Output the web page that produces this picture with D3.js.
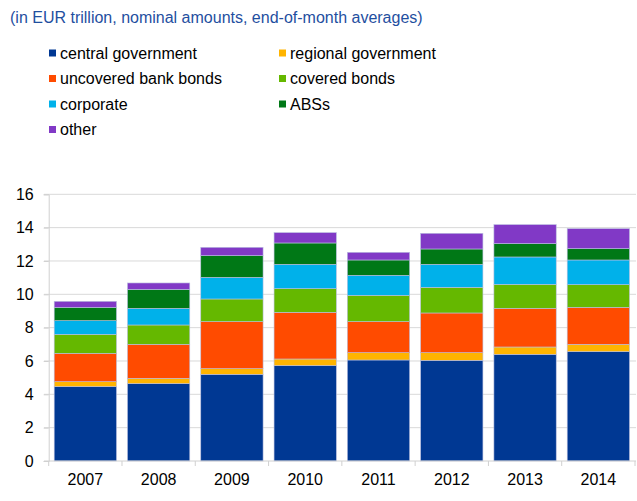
<!DOCTYPE html>
<html>
<head>
<meta charset="utf-8">
<script src="https://cdnjs.cloudflare.com/ajax/libs/d3/7.8.5/d3.min.js"></script>
<style>
  body { margin: 0; background: white; }
  text { font-family: "Liberation Sans", Arial, sans-serif; }
</style>
</head>
<body>
<div id="main"></div>
<script>
var width = 637,
    height = 501;

var years = ["2007", "2008", "2009", "2010", "2011", "2012", "2013", "2014"];
var seriesNames = ["central government", "regional government", "uncovered bank bonds",
                   "covered bonds", "corporate", "ABSs", "other"];
var colors = ["#003893", "#ffb400", "#ff4b00", "#65b800", "#00b1ea", "#007816", "#8139c6"];

// values, one array per series (EUR trillion)
var centralGov   = [4.46, 4.64, 5.20, 5.72, 6.06, 6.04, 6.40, 6.56];
var regionalGov  = [0.30, 0.32, 0.34, 0.40, 0.44, 0.46, 0.44, 0.44];
var uncovered    = [1.70, 2.04, 2.82, 2.80, 1.86, 2.38, 2.32, 2.22];
var covered      = [1.14, 1.16, 1.36, 1.42, 1.58, 1.54, 1.44, 1.36];
var corporate    = [0.82, 1.00, 1.30, 1.46, 1.20, 1.38, 1.64, 1.48];
var abss         = [0.80, 1.14, 1.30, 1.28, 0.92, 0.92, 0.80, 0.68];
var other        = [0.36, 0.38, 0.50, 0.62, 0.46, 0.94, 1.14, 1.20];
var yTicks = [0, 2, 4, 6, 8, 10, 12, 14, 16];

var allSeries = [centralGov, regionalGov, uncovered, covered, corporate, abss, other];

var table = years.map(function(y, i) {
  var row = {year: y};
  seriesNames.forEach(function(n, k) { row[n] = allSeries[k][i]; });
  return row;
});

var svg = d3.select("#main")
  .append("svg")
  .attr("width", width)
  .attr("height", height)
  .style("background-color", "white");

// title
svg.append("text")
  .attr("x", 10)
  .attr("y", 23)
  .style("font-size", "16px")
  .style("fill", "#1f4f9f")
  .text("(in EUR trillion, nominal amounts, end-of-month averages)");

/* legend, two columns */
var legend = svg.selectAll(".legend")
  .data(seriesNames)
.enter().append("g")
  .attr("class", "legend")
  .attr("transform", function(d, i) {
    var col = i % 2, row = Math.floor(i / 2);
    return "translate(" + (col === 0 ? 49 : 279) + "," + (53 + row * 25.5) + ")";
  });

legend.append("rect")
  .attr("x", 0)
  .attr("y", -3.5)
  .attr("width", 7)
  .attr("height", 7)
  .style("fill", function(d, i) { return colors[i]; });

legend.append("text")
  .attr("x", 11)
  .attr("y", 5.5)
  .style("font-size", "16px")
  .style("fill", "#000")
  .text(function(d) { return d; });

// scales
var x = d3.scaleBand()
  .domain(years)
  .range([48.7, 635])
  .paddingInner(0.15)
  .paddingOuter(0.075);

var y = d3.scaleLinear()
  .domain([0, 16])
  .range([461, 194.3]);

// gridlines
svg.selectAll(".grid")
  .data(yTicks.slice(1))
.enter().append("line")
  .attr("class", "grid")
  .attr("x1", 44)
  .attr("x2", 636)
  .attr("y1", function(d) { return y(d); })
  .attr("y2", function(d) { return y(d); })
  .style("stroke", "#d9d9d9")
  .style("stroke-width", 1);

// y axis
var yAxis = svg.append("g")
  .attr("transform", "translate(48.7,0)")
  .call(d3.axisLeft(y).tickValues(yTicks).tickSize(5).tickPadding(10));
yAxis.select(".domain").style("stroke", "#d0d0d0");
yAxis.selectAll(".tick line").style("stroke", "#d0d0d0");
yAxis.selectAll("text")
  .style("font-size", "16px")
  .style("font-family", "Liberation Sans, Arial, sans-serif")
  .style("fill", "#000");

// stacked bars
var stack = d3.stack().keys(seriesNames);
var layers = stack(table);

svg.selectAll(".layer")
  .data(layers)
.enter().append("g")
  .attr("class", "layer")
  .style("fill", function(d, i) { return colors[i]; })
  .selectAll("rect")
  .data(function(d) { return d; })
.enter().append("rect")
  .attr("x", function(d) { return x(d.data.year); })
  .attr("width", x.bandwidth())
  .attr("y", function(d) { return y(d[1]); })
  .attr("height", function(d) { return y(d[0]) - y(d[1]); })
  .style("stroke", "#b9bfe0")
  .style("stroke-width", 0.6);

// x axis with ticks between categories
var xAxis = svg.append("g")
  .attr("transform", "translate(0,461)");
xAxis.append("line")
  .attr("x1", 44)
  .attr("x2", 636)
  .style("stroke", "#d0d0d0");
xAxis.selectAll(".sep")
  .data(years.concat(["end"]))
.enter().append("line")
  .attr("class", "sep")
  .attr("x1", function(d, i) { return 48.7 + i * x.step(); })
  .attr("x2", function(d, i) { return 48.7 + i * x.step(); })
  .attr("y1", 0)
  .attr("y2", 5)
  .style("stroke", "#d0d0d0");
xAxis.selectAll(".lbl")
  .data(years)
.enter().append("text")
  .attr("class", "lbl")
  .attr("x", function(d) { return x(d) + x.bandwidth() / 2; })
  .attr("y", 24)
  .attr("text-anchor", "middle")
  .style("font-size", "16px")
  .style("fill", "#000")
  .text(function(d) { return d; });
</script>
</body>
</html>
